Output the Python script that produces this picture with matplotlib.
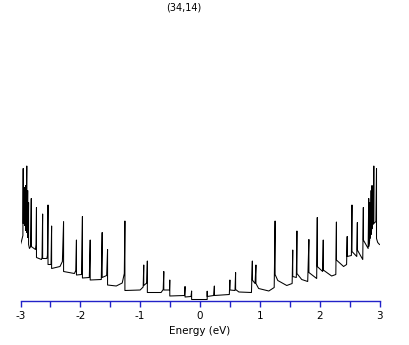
import numpy as np
import matplotlib
matplotlib.use('Agg')
import matplotlib.pyplot as plt

# density of states, negative energies (E, DOS)
e_left = [-3.00, -2.985, -2.96, -2.955, -2.955, -2.935, -2.93, -2.93, -2.92, -2.915,
          -2.915, -2.905, -2.895, -2.895, -2.885, -2.88, -2.88, -2.87, -2.865, -2.865,
          -2.85, -2.83, -2.82, -2.82, -2.75, -2.74, -2.733, -2.733, -2.65, -2.64,
          -2.63, -2.63, -2.56, -2.55, -2.54, -2.54, -2.49, -2.48, -2.48, -2.34,
          -2.30, -2.28, -2.28, -2.10, -2.075, -2.065, -2.065, -1.98, -1.965, -1.965,
          -1.85, -1.835, -1.835, -1.65, -1.635, -1.635, -1.56, -1.545, -1.545, -1.40,
          -1.30, -1.265, -1.255, -1.255, -1.00, -0.95, -0.94, -0.94, -0.89, -0.88,
          -0.88, -0.65, -0.615, -0.605, -0.605, -0.51, -0.505, -0.505, -0.26, -0.25,
          -0.25, -0.15, -0.14, -0.14, 0.0]
dos_left = [5.6, 5.9, 6.5, 13.2, 7.7, 8.0, 11.3, 7.5, 7.8, 11.5,
            7.0, 7.6, 13.45, 6.8, 7.4, 11.0, 6.3, 6.8, 9.8, 5.6,
            5.2, 5.4, 10.2, 5.4, 5.1, 5.6, 9.3, 4.3, 4.1, 4.3,
            8.65, 4.2, 4.2, 4.5, 9.55, 3.6, 3.6, 7.45, 3.2, 3.4,
            3.9, 7.9, 2.9, 2.7, 3.0, 6.05, 2.55, 2.6, 8.4, 2.25,
            2.3, 6.05, 2.05, 2.1, 6.8, 2.3, 2.5, 5.1, 1.55, 1.45,
            1.75, 2.7, 7.95, 1.0, 1.05, 1.35, 3.55, 1.5, 1.75, 3.95,
            0.8, 0.8, 1.1, 2.9, 1.05, 1.05, 2.05, 0.45, 0.5, 1.4,
            0.35, 0.4, 0.95, 0.1, 0.1]

# positive energies (E, DOS)
e_right = [0.0, 0.12, 0.12, 0.12, 0.23, 0.24, 0.24, 0.49, 0.50, 0.50,
           0.585, 0.595, 0.595, 0.65, 0.86, 0.875, 0.875, 0.92, 0.935, 0.935,
           0.98, 1.15, 1.24, 1.255, 1.255, 1.30, 1.45, 1.54, 1.55, 1.55,
           1.61, 1.62, 1.62, 1.70, 1.80, 1.82, 1.82, 1.95, 1.96, 1.96,
           2.05, 2.06, 2.06, 2.20, 2.27, 2.28, 2.28, 2.40, 2.45, 2.46,
           2.46, 2.53, 2.54, 2.54, 2.62, 2.63, 2.63, 2.72, 2.73, 2.73,
           2.81, 2.82, 2.82, 2.835, 2.84, 2.84, 2.855, 2.86, 2.86, 2.87,
           2.875, 2.875, 2.885, 2.89, 2.89, 2.90, 2.905, 2.905, 2.94, 2.95,
           2.95, 2.97, 3.00]
dos_right = [0.1, 0.1, 0.92, 0.4, 0.5, 1.45, 0.5, 0.6, 2.05, 1.05,
             1.0, 2.8, 1.1, 0.85, 0.8, 3.95, 2.05, 1.7, 3.55, 1.7,
             1.2, 0.95, 1.3, 7.95, 2.6, 2.0, 1.5, 1.7, 5.05, 2.4,
             2.3, 6.95, 2.7, 2.1, 1.9, 6.1, 2.8, 2.2, 8.3, 3.4,
             2.9, 6.05, 3.05, 2.45, 2.6, 7.85, 4.05, 3.4, 3.6, 6.4,
             4.4, 4.5, 9.55, 4.9, 4.4, 7.8, 5.05, 4.1, 9.3, 6.05,
             5.2, 10.2, 5.4, 6.0, 9.8, 6.2, 7.0, 11.0, 6.6, 7.2,
             11.5, 7.2, 7.8, 11.2, 7.6, 8.0, 13.45, 7.7, 7.9, 13.2,
             6.2, 5.8, 5.6]

tick_pos = np.arange(-3, 3.01, 0.5)
tick_lab = ['-3', '', '-2', '', '-1', '', '0', '', '1', '', '2', '', '3']

blue = '#2222c8'

fig = plt.figure(figsize=(4.09, 3.45), dpi=100)
ax = fig.add_axes([20.5/409, 44.5/345, 359/409, 280.5/345])

ax.plot(e_left + e_right, dos_left + dos_right, color='black', lw=0.75)

ax.set_xlim(-3, 3)
ax.set_ylim(0, 28.05)

for s in ['left', 'right', 'top']:
    ax.spines[s].set_visible(False)
ax.spines['bottom'].set_color(blue)
ax.spines['bottom'].set_linewidth(1.0)
ax.set_yticks([])
ax.set_xticks(tick_pos)
ax.set_xticklabels(tick_lab, fontsize=7.5)
ax.tick_params(axis='x', direction='out', length=4.3, width=1.0, color=blue, pad=3.5)
ax.set_xlabel('Energy (eV)', fontsize=7.5, labelpad=3.5)

fig.text(184/409, 1 - 7/345, '(34,14)', fontsize=7, ha='center', va='center')

fig.savefig('out.png', dpi=100)
